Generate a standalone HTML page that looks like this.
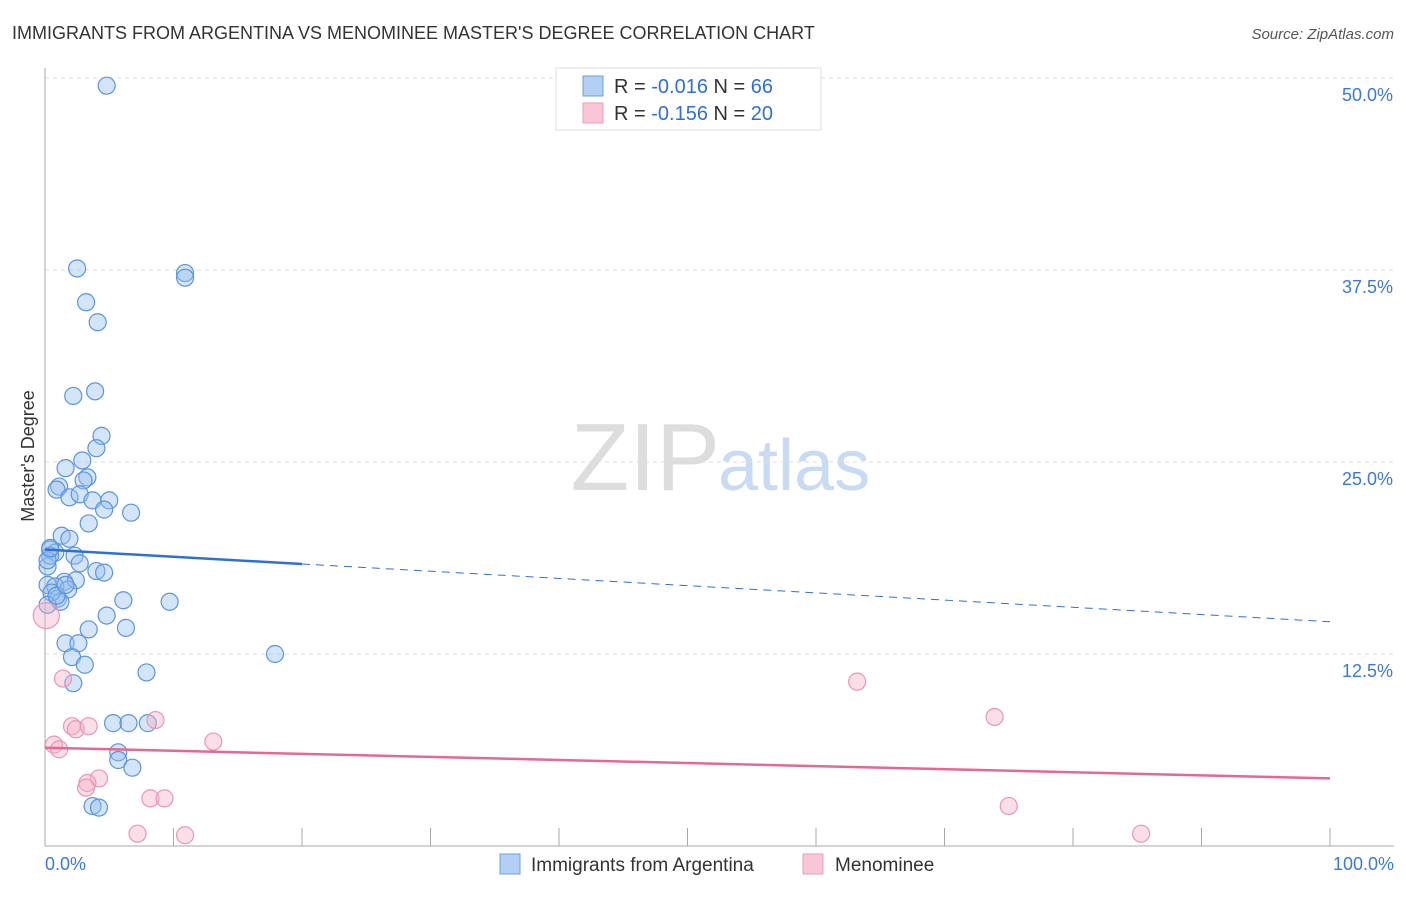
<!DOCTYPE html>
<html><head><meta charset="utf-8"><style>
body{margin:0;background:#fff;font-family:"Liberation Sans",sans-serif;}
svg text{font-family:"Liberation Sans",sans-serif;}
</style></head><body>
<svg id="chart" width="1406" height="892" xmlns="http://www.w3.org/2000/svg">
<text x="12" y="39" font-size="18" fill="#333">IMMIGRANTS FROM ARGENTINA VS MENOMINEE MASTER'S DEGREE CORRELATION CHART</text>
<text x="1394" y="39" font-size="15" fill="#555" font-style="italic" text-anchor="end">Source: ZipAtlas.com</text>
<text x="720" y="490" font-size="96" fill="#ddd" text-anchor="end" font-family="Liberation Serif">ZIP</text>
<text x="718" y="490" font-size="72" fill="#c9dbf3">atlas</text>
<text transform="translate(34,456) rotate(-90)" font-size="18" fill="#333" text-anchor="middle">Master's Degree</text>
<g id="grid"></g><g id="axes"></g><g id="marks"></g>
<g>
<rect x="556" y="68" width="265" height="62" fill="#fff" stroke="#ddd"/>
<rect x="583" y="76" width="20" height="20" fill="#b3cff3" stroke="#6d9fe0"/>
<text x="614" y="93" font-size="20" fill="#333">R = <tspan fill="#2f6fd6">-0.016</tspan>   N = <tspan fill="#2f6fd6">66</tspan></text>
<rect x="583" y="103" width="20" height="20" fill="#f8c6d5" stroke="#e9a0b8"/>
<text x="614" y="120" font-size="20" fill="#333">R = <tspan fill="#2f6fd6">-0.156</tspan>   N = <tspan fill="#2f6fd6">20</tspan></text>
</g>
<g>
<rect x="500" y="854" width="20" height="20" fill="#b3cff3" stroke="#6d9fe0"/>
<text x="531" y="871" font-size="19" fill="#333">Immigrants from Argentina</text>
<rect x="803" y="854" width="20" height="20" fill="#f8c6d5" stroke="#e9a0b8"/>
<text x="835" y="871" font-size="19" fill="#333">Menominee</text>
</g>
</svg>
<script>
const yTicks=[12.5,25,37.5,50];
const yTickLabels=["12.5%","25.0%","37.5%","50.0%"];
const xTickLabels=["0.0%","100.0%"];
const blueX=[4.8,2.5,10.9,10.9,3.2,4.1,3.9,2.2,4.4,4.0,2.9,1.6,3.3,3.0,1.1,0.9,1.9,2.7,3.7,5.0,4.6,6.7,3.4,1.3,1.9,0.4,0.8,2.3,2.7,0.2,4.0,4.6,0.2,1.5,2.4,0.8,1.8,1.0,1.2,6.1,9.7,4.8,3.4,6.3,1.6,2.6,2.1,3.1,17.9,7.9,2.2,5.3,6.5,8.0,5.7,5.7,6.8,3.7,4.2,0.4,0.2,0.5,0.2,0.4,0.9,1.6];
const blueY=[49.5,37.6,37.3,37.0,35.4,34.1,29.6,29.3,26.7,25.9,25.1,24.6,24.0,23.8,23.4,23.2,22.7,22.9,22.5,22.5,21.9,21.7,21.0,20.2,20.0,19.3,19.1,18.9,18.4,18.2,17.9,17.8,17.0,17.2,17.3,16.9,16.7,16.1,15.9,16.0,15.9,15.0,14.1,14.2,13.2,13.2,12.3,11.8,12.5,11.3,10.6,8.0,8.0,8.0,6.1,5.6,5.1,2.6,2.5,18.9,18.6,16.5,15.7,19.4,16.3,17.0];
const pinkX=[0.1,1.4,2.1,2.4,3.4,8.6,0.7,1.1,13.1,4.2,3.3,3.2,8.2,9.3,7.2,10.9,63.2,73.9,75.0,85.3];
const pinkY=[15.0,10.9,7.8,7.6,7.8,8.2,6.6,6.3,6.8,4.4,4.1,3.8,3.1,3.1,0.8,0.7,10.7,8.4,2.6,0.8];
const blueTrend=[19.3,14.6];
const pinkTrend=[6.4,4.4];
const X=v=>45+v*12.85, Y=v=>846-v*15.36;
const NS="http://www.w3.org/2000/svg";
function mk(p,t,a){const e=document.createElementNS(NS,t);for(const k in a)e.setAttribute(k,a[k]);p.appendChild(e);return e;}
const grid=document.getElementById('grid'),axes=document.getElementById('axes'),marks=document.getElementById('marks');
yTicks.forEach((t,i)=>{
 const l=mk(grid,'line',{x1:45,x2:1394,y1:Y(t),y2:Y(t),stroke:'#ddd','stroke-dasharray':'4,4'});
 
 
 const tx=mk(grid,'text',{x:1393,y:Y(t)+23,'font-size':18,fill:'#3b78d8','text-anchor':'end'});tx.textContent=yTickLabels[i];
 
 
});
const ax=mk(axes,'line',{x1:45,x2:1394,y1:846,y2:846,stroke:'#aaa'});


const ay=mk(axes,'line',{x1:45,x2:45,y1:68,y2:846,stroke:'#aaa'});


for(let i=0;i<=10;i++){const t=mk(axes,'line',{x1:X(i*10),x2:X(i*10),y1:828,y2:846,stroke:'#aaa'});
 
 }
[[0,'start',45],[100,'end',1394]].forEach((d,i)=>{const t=mk(axes,'text',{x:d[2],y:870,'font-size':18,fill:'#3b78d8','text-anchor':d[1]});t.textContent=xTickLabels[i];
 
 });
blueX.forEach((x,i)=>{const c=mk(marks,'circle',{cx:X(x),cy:Y(blueY[i]),r:8.5,fill:'rgba(150,190,240,0.4)',stroke:'#5b94de','stroke-width':1.2});
 
 });
pinkX.forEach((x,i)=>{const c=mk(marks,'circle',{cx:X(x),cy:Y(pinkY[i]),r:i==0?13:8.5,fill:'rgba(245,175,198,0.4)',stroke:'#e996b2','stroke-width':1.2});
 
 });
const bt=x=>blueTrend[0]+(blueTrend[1]-blueTrend[0])*x/100;
const l1=mk(marks,'line',{x1:X(0),y1:Y(bt(0)),x2:X(20),y2:Y(bt(20)),stroke:'#2f6fd6','stroke-width':2.5});


const l2=mk(marks,'line',{x1:X(20),y1:Y(bt(20)),x2:X(100),y2:Y(bt(100)),stroke:'#2f6fd6','stroke-width':1,'stroke-dasharray':'8,6'});


const l3=mk(marks,'line',{x1:X(0),y1:Y(pinkTrend[0]),x2:X(100),y2:Y(pinkTrend[1]),stroke:'#e5688f','stroke-width':2.5});


</script>
</body></html>
